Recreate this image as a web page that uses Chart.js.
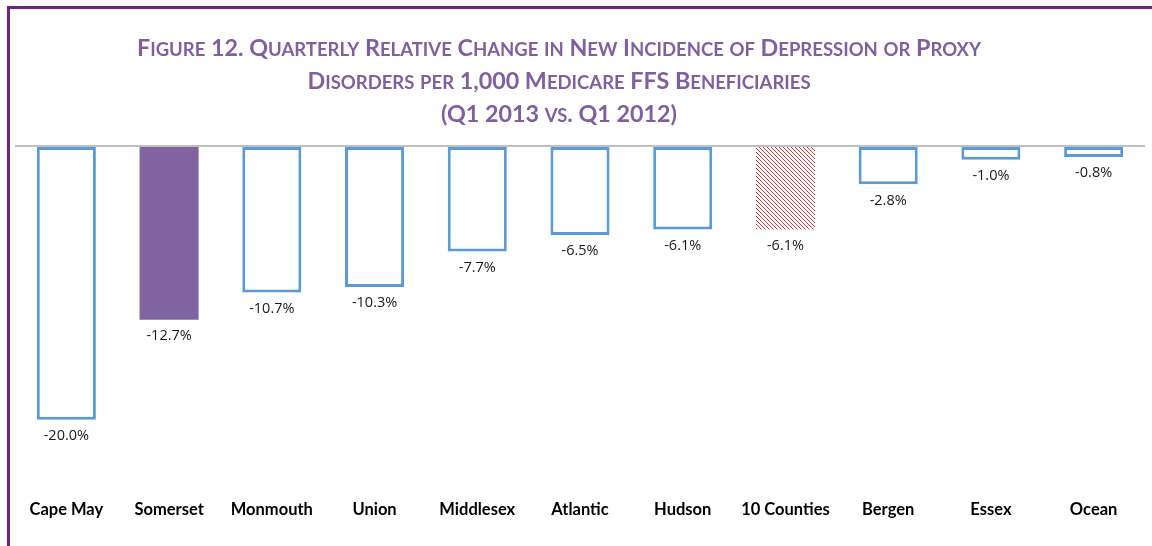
<!DOCTYPE html>
<html>
<head>
<meta charset="utf-8">
<script src="https://cdn.jsdelivr.net/npm/chart.js@4.4.1/dist/chart.umd.min.js"></script>
<style>
    html, body { margin: 0; padding: 0; background: #fff; }
    #wrap { position: relative; width: 1152px; height: 546px; }
    #frame { position: absolute; left: 7px; top: 6px; right: -10px; bottom: -10px;
             border-top: 3px solid #6b2387; border-left: 3px solid #6b2387; pointer-events: none; }
    canvas { position: absolute; left: 0; top: 0; }
</style>
</head>
<body>
<div id="wrap">
    <canvas id="chart" width="1152" height="546"></canvas>
    <div id="frame"></div>
</div>
<script>
const counties = ['Cape May', 'Somerset', 'Monmouth', 'Union', 'Middlesex', 'Atlantic', 'Hudson', '10 Counties', 'Bergen', 'Essex', 'Ocean'];
const relChange = [-20.0, -12.7, -10.7, -10.3, -7.7, -6.5, -6.1, -6.1, -2.8, -1.0, -0.8];
const titleLines = [
    'Figure 12. Quarterly Relative Change in New Incidence of Depression or Proxy',
    'Disorders per 1,000 Medicare FFS Beneficiaries',
    '(Q1 2013 vs. Q1 2012)'
];

const titleFamily = "Lato, 'Open Sans', sans-serif";
const titleSize = 23.3;
const titleSmall = 18.5;

// red diagonal hatch for the 10 county average
function hatchPattern() {
    const c = document.createElement('canvas');
    c.width = 4; c.height = 4;
    const g = c.getContext('2d');
    g.fillStyle = '#fff';
    g.fillRect(0, 0, 4, 4);
    g.fillStyle = 'rgba(220, 30, 40, 0.9)';
    for (let i = 0; i < 4; i++) {
        g.fillRect(i, i, 1, 1);
    }
    return g.createPattern(c, 'repeat');
}
const hatch = hatchPattern();

const fills = counties.map(function (c) {
    if (c === 'Somerset') return '#8064a2';
    if (c === '10 Counties') return hatch;
    return '#ffffff';
});
const borders = counties.map(function (c) {
    return (c === 'Somerset' || c === '10 Counties') ? 0 : 3;
});

// split a line in runs of big (capitals, digits...) and small (lower case) letters
function capsRuns(text) {
    const runs = [];
    for (const ch of text) {
        const small = ch !== ch.toUpperCase();
        const last = runs[runs.length - 1];
        if (last && last.small === small) last.text += ch.toUpperCase();
        else runs.push({ small: small, text: ch.toUpperCase() });
    }
    return runs;
}

const smallCapsTitle = {
    id: 'smallCapsTitle',
    afterDraw(chart) {
        const { ctx } = chart;
        const tb = chart.titleBlock;
        const lineSize = tb.options.font.lineHeight * tb.options.font.size;
        const cx = (chart.chartArea.left + chart.chartArea.right) / 2 - 21;
        ctx.save();
        ctx.fillStyle = '#7f5fa0';
        ctx.textBaseline = 'alphabetic';
        ctx.textAlign = 'left';
        titleLines.forEach(function (line, i) {
            const runs = capsRuns(line);
            let w = 0;
            runs.forEach(function (r) {
                ctx.font = 'bold ' + (r.small ? titleSmall : titleSize) + 'px ' + titleFamily;
                r.w = ctx.measureText(r.text).width;
                w += r.w;
            });
            let x = cx - w / 2;
            const y = tb.top + tb.options.padding.top + lineSize / 2 + i * lineSize + titleSize * 0.36;
            runs.forEach(function (r) {
                ctx.font = 'bold ' + (r.small ? titleSmall : titleSize) + 'px ' + titleFamily;
                ctx.fillText(r.text, x, y);
                x += r.w;
            });
        });
        ctx.restore();
    }
};

const valueLabels = {
    id: 'valueLabels',
    afterDatasetsDraw(chart) {
        const { ctx } = chart;
        const meta = chart.getDatasetMeta(0);
        ctx.save();
        ctx.font = "14.5px 'Open Sans', sans-serif";
        ctx.fillStyle = '#1a1a1a';
        ctx.textAlign = 'center';
        ctx.textBaseline = 'top';
        meta.data.forEach(function (bar, i) {
            ctx.fillText(relChange[i].toFixed(1) + '%', bar.x, bar.y + 9);
        });
        ctx.restore();
    }
};

const ctx = document.getElementById('chart').getContext('2d');
const myChart = new Chart(ctx, {
    type: 'bar',
    data: {
        labels: counties,
        datasets: [{
            data: relChange,
            backgroundColor: fills,
            borderColor: '#5b9bd5',
            borderWidth: borders,
            borderSkipped: false,
            barPercentage: 0.575,
            categoryPercentage: 1
        }]
    },
    options: {
        responsive: false,
        animation: false,
        layout: {
            padding: { left: 15, right: 7, top: 0, bottom: 14 }
        },
        scales: {
            x: {
                grid: { display: false, drawTicks: false },
                border: { display: false },
                ticks: {
                    color: '#000',
                    padding: 12,
                    maxRotation: 0,
                    font: { family: "Lato, 'Open Sans', sans-serif", size: 16.5, weight: 'bold' }
                }
            },
            y: {
                min: -25,
                max: 0,
                ticks: { display: false },
                border: { display: false },
                grid: {
                    drawTicks: false,
                    lineWidth: 2,
                    color: function (c) {
                        return c.tick && c.tick.value === 0 ? '#bfbfbf' : 'rgba(0,0,0,0)';
                    }
                }
            }
        },
        plugins: {
            legend: { display: false },
            tooltip: { enabled: false },
            title: {
                display: true,
                text: titleLines,
                color: 'rgba(0,0,0,0)',
                padding: { top: 31, bottom: 16 },
                font: {
                    family: titleFamily,
                    size: 22,
                    weight: 'bold',
                    lineHeight: 1.5
                }
            }
        }
    },
    plugins: [valueLabels, smallCapsTitle]
});
</script>
</body>
</html>
